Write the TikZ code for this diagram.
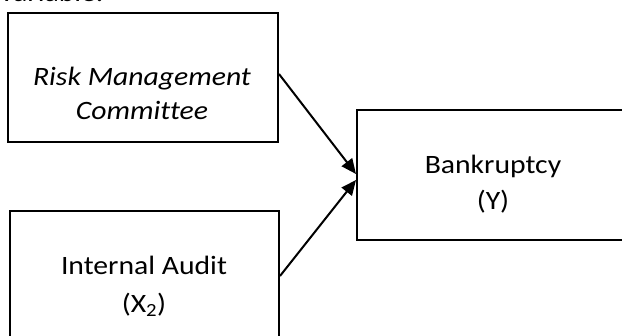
\documentclass[tikz,border=0pt]{standalone}
\usepackage{fontspec}
\setmainfont{Carlito}[FakeStretch=1.12,Ligatures=NoCommon]
\usetikzlibrary{arrows.meta}
\begin{document}
\begin{tikzpicture}[x=1pt,y=-1pt,
  box/.style={draw=black,line width=2pt,rectangle,inner sep=0pt,anchor=north west},
  lbl/.style={anchor=base,inner sep=0pt,font=\fontsize{26.5}{32}\selectfont},
  arr/.style={line width=2pt,-{Triangle[length=15pt,width=13pt]}}]
\useasboundingbox (0,0) rectangle (622,336);
\clip (0,0) rectangle (622,336);
\node[lbl,anchor=base west] (cut) at (0,2) {variable.};
\node[box,minimum width=270pt,minimum height=129pt] (b1) at (7,12) {};
\node[box,minimum width=269pt,minimum height=150pt] (b2) at (9,210) {};
\node[box,minimum width=274pt,minimum height=130pt] (b3) at (356,109) {};
\node[lbl] (t1a) at (142,86) {\itshape Risk Management};
\node[lbl] (t1b) at (142,120) {\itshape Committee};
\node[lbl] (t2a) at (144,275) {Internal Audit};
\node[lbl] (t2b) at (144,313) {(X\textsubscript{2})};
\node[lbl] (t3a) at (493,174) {Bankruptcy};
\node[lbl] (t3b) at (493,210) {(Y)};
\coordinate (s1) at (b1.east |- 0,74);
\coordinate (e1) at (b3.west |- 0,174);
\coordinate (s2) at (b2.east |- 0,276);
\coordinate (e2) at (b3.west |- 0,180);
\draw[arr] (s1) -- (e1);
\draw[arr] (s2) -- (e2);
\end{tikzpicture}
\end{document}
